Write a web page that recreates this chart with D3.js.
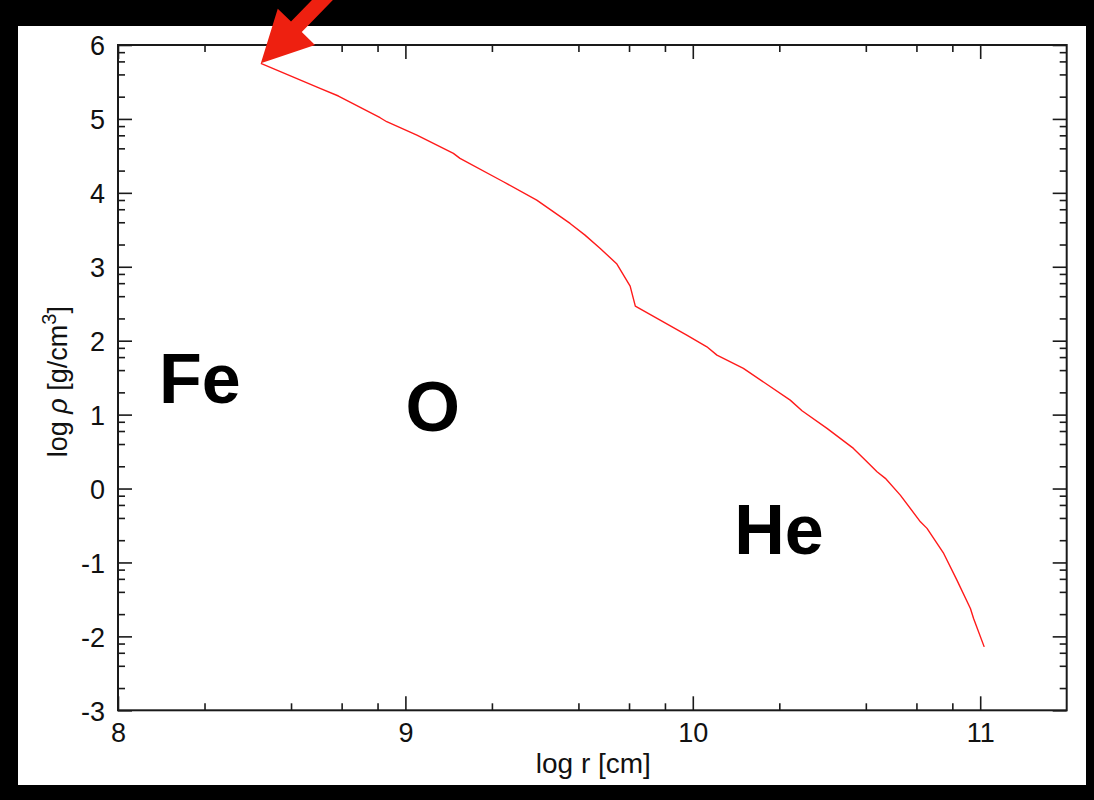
<!DOCTYPE html>
<html>
<head>
<meta charset="utf-8">
<script src="https://cdn.jsdelivr.net/npm/d3@7"></script>
<style>
  html, body { margin: 0; background: #000; }
  svg { display: block; }
</style>
</head>
<body>
<script>
// density profile
const logR = [8.497, 8.703, 8.767, 8.912, 8.935, 9.040, 9.167, 9.190, 9.341, 9.457,
  9.573, 9.625, 9.678, 9.736, 9.782, 9.800, 9.979, 10.049, 10.084, 10.176,
  10.339, 10.380, 10.467, 10.559, 10.606, 10.641, 10.670, 10.722, 10.792, 10.815,
  10.873, 10.919, 10.966, 10.977, 11.014];
const logRho = [5.752, 5.414, 5.310, 5.016, 4.962, 4.782, 4.534, 4.466, 4.150, 3.902,
  3.586, 3.428, 3.248, 3.036, 2.739, 2.468, 2.076, 1.917, 1.805, 1.625,
  1.196, 1.052, 0.814, 0.543, 0.362, 0.227, 0.138, -0.089, -0.450, -0.539,
  -0.878, -1.239, -1.622, -1.758, -2.142];

const xTicks = [8, 9, 10, 11];
const yTicks = [-3, -2, -1, 0, 1, 2, 3, 4, 5, 6];
const minorSteps = [2, 4, 6, 8];

const zoneNames = ["Fe", "O", "He"];
const zoneR = [8.285, 9.095, 10.300];
const zoneRho = [1.16, 0.777, -0.888];

const width = 1094;
const height = 800;

const svg = d3.select("body").append("svg")
  .attr("width", width)
  .attr("height", height);

svg.append("rect")
  .attr("x", 18).attr("y", 26)
  .attr("width", 1068).attr("height", 759)
  .attr("fill", "#fff");

const x = d3.scaleLinear().domain([8, 11.301]).range([118, 1066.7]);
const y = d3.scaleLinear().domain([-3, 6]).range([710.3, 45]);

const minorX = [];
xTicks.forEach((t) => minorSteps.forEach((m) => {
  const v = t + Math.log10(m);
  if (v < x.domain()[1] - 0.01) minorX.push(v);
}));
const minorY = [];
yTicks.slice(0, -1).forEach((t) => minorSteps.forEach((m) => minorY.push(t + Math.log10(m))));

const [x0, x1] = x.range();
const [y0, y1] = y.range();

const plain = (d) => String(d); // hyphen minus, like the original

function drawAxis(axis, tx, ty) {
  const g = svg.append("g")
    .attr("transform", `translate(${tx},${ty})`)
    .call(axis);
  g.select(".domain").remove();
  g.selectAll(".tick line").attr("stroke", "#1a1a1a").attr("stroke-width", 1.6);
  return g;
}

// major ticks with labels
const xAxis = drawAxis(d3.axisBottom(x).tickValues(xTicks).tickSize(-14).tickSizeOuter(0).tickFormat(plain), 0, y0);
xAxis.selectAll(".tick text")
  .attr("y", 32).attr("dy", null)
  .attr("font-family", "Liberation Sans, Arial, sans-serif")
  .attr("font-size", 27).attr("fill", "#111");

const yAxis = drawAxis(d3.axisLeft(y).tickValues(yTicks).tickSize(-14).tickSizeOuter(0).tickFormat(plain), x0, 0);
yAxis.selectAll(".tick text")
  .attr("x", -13).attr("dy", "0.36em")
  .attr("font-family", "Liberation Sans, Arial, sans-serif")
  .attr("font-size", 27).attr("fill", "#111");

drawAxis(d3.axisTop(x).tickValues(xTicks).tickSize(-14).tickSizeOuter(0).tickFormat(""), 0, y1);
drawAxis(d3.axisRight(y).tickValues(yTicks).tickSize(-14).tickSizeOuter(0).tickFormat(""), x1, 0);

// minor ticks on all four sides
drawAxis(d3.axisBottom(x).tickValues(minorX).tickSize(-7).tickSizeOuter(0).tickFormat(""), 0, y0);
drawAxis(d3.axisTop(x).tickValues(minorX).tickSize(-7).tickSizeOuter(0).tickFormat(""), 0, y1);
drawAxis(d3.axisLeft(y).tickValues(minorY).tickSize(-7).tickSizeOuter(0).tickFormat(""), x0, 0);
drawAxis(d3.axisRight(y).tickValues(minorY).tickSize(-7).tickSizeOuter(0).tickFormat(""), x1, 0);

// frame
svg.append("rect")
  .attr("x", x0).attr("y", y1)
  .attr("width", x1 - x0).attr("height", y0 - y1)
  .attr("fill", "none")
  .attr("stroke", "#1a1a1a")
  .attr("stroke-width", 2);

// axis titles
svg.append("text")
  .attr("x", (x0 + x1) / 2 + 1)
  .attr("y", 773)
  .attr("text-anchor", "middle")
  .attr("font-family", "Liberation Sans, Arial, sans-serif")
  .attr("font-size", 28)
  .attr("fill", "#111")
  .text("log r [cm]");

const yTitle = svg.append("text")
  .attr("transform", `translate(67,${(y0 + y1) / 2 + 4}) rotate(-90)`)
  .attr("text-anchor", "middle")
  .attr("font-family", "Liberation Sans, Arial, sans-serif")
  .attr("font-size", 27)
  .attr("fill", "#111");
yTitle.append("tspan").text("log ");
yTitle.append("tspan").attr("font-style", "italic").text("ρ");
yTitle.append("tspan").text(" [g/cm");
yTitle.append("tspan").attr("font-size", 20).attr("dy", -11).text("3");
yTitle.append("tspan").attr("dy", 11).text("]");

// density curve
const line = d3.line()
  .x((d, i) => x(logR[i]))
  .y((d) => y(d));

svg.append("path")
  .datum(logRho)
  .attr("d", line)
  .attr("fill", "none")
  .attr("stroke", "#ff1a1a")
  .attr("stroke-width", 1.4)
  .attr("stroke-linejoin", "round");

// zone labels
svg.selectAll(".zone")
  .data(zoneNames)
  .enter()
  .append("text")
  .attr("class", "zone")
  .attr("x", (d, i) => x(zoneR[i]))
  .attr("y", (d, i) => y(zoneRho[i]))
  .attr("text-anchor", "middle")
  .attr("font-family", "Liberation Sans, Arial, sans-serif")
  .attr("font-weight", "bold")
  .attr("font-size", 70)
  .attr("fill", "#000")
  .text((d) => d);

// red arrow pointing at the innermost point
const tipX = x(logR[0]);
const tipY = y(logRho[0]);
const ang = Math.atan2(-36.5, 35.5);
const ux = Math.cos(ang), uy = Math.sin(ang);
const px = -uy, py = ux;
const headLen = 51, headHalf = 26, shaftHalf = 7.5, shaftLen = 120;
const pt = (a, b) => [tipX + ux * a + px * b, tipY + uy * a + py * b];
const arrow = [
  pt(0, 0),
  pt(headLen, headHalf),
  pt(headLen, shaftHalf),
  pt(shaftLen, shaftHalf),
  pt(shaftLen, -shaftHalf),
  pt(headLen, -shaftHalf),
  pt(headLen, -headHalf)
];
svg.append("path")
  .attr("d", "M" + arrow.map((p) => p.join(",")).join("L") + "Z")
  .attr("fill", "#ee2010");
</script>
</body>
</html>
